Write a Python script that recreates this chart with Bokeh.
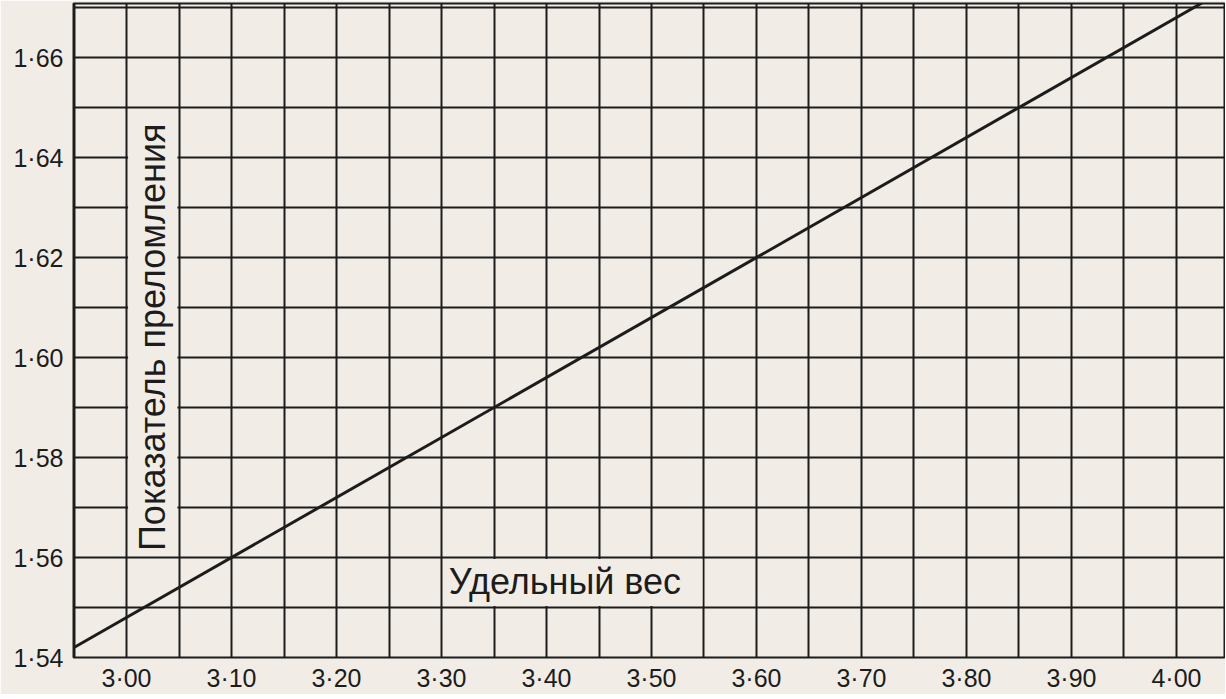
import numpy as np
from bokeh.plotting import figure
from bokeh.models import FixedTicker, Range1d, Label, CustomJSTickFormatter
from bokeh.embed import file_html
from bokeh.resources import INLINE

# ---- data ----
specific_gravity = [2.95, 4.05]
refractive_index = [1.542, 1.674]
x_ticks = [3.00, 3.10, 3.20, 3.30, 3.40, 3.50, 3.60, 3.70, 3.80, 3.90, 4.00]
y_ticks = [1.54, 1.56, 1.58, 1.60, 1.62, 1.64, 1.66]
x_title = "Удельный вес"
y_title = "Показатель преломления"

paper = "#f1ede6"
ink = "#1c1c1c"
FONT = "Liberation Sans"

x_grid = [round(2.95 + 0.05 * i, 3) for i in range(23)]
y_grid = [round(1.54 + 0.01 * i, 3) for i in range(14)]

p = figure(frame_width=1152, frame_height=654,
           x_range=Range1d(2.94952, 4.04667), y_range=Range1d(1.54, 1.6708),
           output_backend="svg", toolbar_location=None,
           min_border_left=73, min_border_right=0, min_border_top=3, min_border_bottom=0,
           background_fill_color=paper, border_fill_color=paper,
           outline_line_color=ink, outline_line_width=2)

fmt = CustomJSTickFormatter(code="return tick.toFixed(2).replace('.', '\u00b7');")
for ax, ticks in ((p.xaxis[0], x_ticks), (p.yaxis[0], y_ticks)):
    ax.ticker = FixedTicker(ticks=ticks)
    ax.formatter = fmt
    ax.axis_line_color = None
    ax.major_tick_line_color = None
    ax.minor_tick_line_color = None
    ax.major_label_text_font = FONT
    ax.major_label_text_font_size = "25px"
    ax.major_label_text_color = ink
p.xaxis.major_label_standoff = 0
p.yaxis.major_label_standoff = 4

p.xgrid.ticker = FixedTicker(ticks=x_grid)
p.ygrid.ticker = FixedTicker(ticks=y_grid)
for g in (p.xgrid[0], p.ygrid[0]):
    g.grid_line_color = ink
    g.grid_line_width = 2
    g.grid_line_alpha = 1.0

# blank boxes behind the titles (hide grid lines)
p.quad(left=[3.3015, 3.0015], right=[3.5485, 3.0485],
       bottom=[1.5503, 1.5603], top=[1.5597, 1.6497],
       fill_color=paper, line_color=None)

p.line(specific_gravity, refractive_index, line_color=ink, line_width=3)

p.add_layout(Label(x=3.307, y=1.5552, text=x_title, text_font=FONT,
                   text_font_size="36px", text_color=ink,
                   text_align="left", text_baseline="middle"))
p.add_layout(Label(x=3.0245, y=1.5613, text=y_title, text_font=FONT,
                   text_font_size="36px", text_color=ink, angle=np.pi / 2,
                   text_align="left", text_baseline="middle"))

open("out.html", "w").write(file_html(p, INLINE))
